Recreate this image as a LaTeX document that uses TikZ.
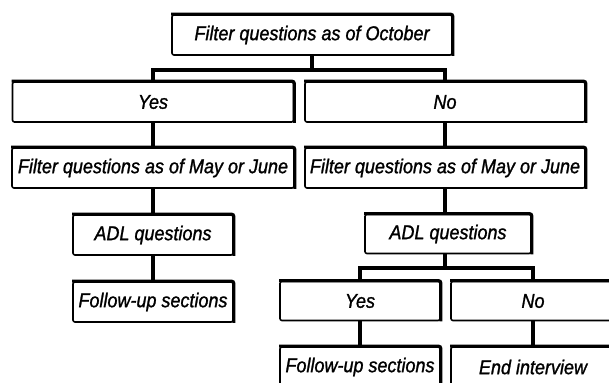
\documentclass[tikz,border=0pt]{standalone}
\usepackage{fontspec}
\usepackage{tikz}
\usetikzlibrary{positioning}
\newfontfamily\boxfont[FakeStretch=0.9, FakeBold=1.2]{Liberation Sans}

\tikzset{
  stepbox/.style={draw, line width=1.6pt, rounded corners=2pt, minimum height=40pt, inner sep=0pt,
    font=\boxfont\itshape\fontsize{20}{22}\selectfont,
    append after command={\pgfextra{\draw[line width=3pt, rounded corners=2pt] (\tikzlastnode.north west) -- (\tikzlastnode.north east) -- (\tikzlastnode.south east);}}},
  link/.style={line width=3.8pt}
}

\begin{document}
\begin{tikzpicture}[x=1pt, y=-1pt]
\useasboundingbox (0,0) rectangle (609,382);
\clip (0,0) rectangle (609,382);

\node (oct) [stepbox, minimum width=280pt] at (312,35) {Filter questions as of October};
\node (yes1) [stepbox, minimum width=281pt] at (153,102) {Yes};
\node (no1) [stepbox, minimum width=280pt] at (445,102) {No};
\node (may1) [stepbox, minimum width=282pt] at (153,168) {Filter questions as of May or June};
\node (may2) [stepbox, minimum width=280pt] at (445,168) {Filter questions as of May or June};
\node (adl1) [stepbox, minimum width=160pt] at (153,235) {ADL questions};
\node (fol1) [stepbox, minimum width=160pt] at (153,302) {Follow-up sections};
\node (adl2) [stepbox, minimum width=166pt, minimum height=39pt] at (448,234) {ADL questions};
\node (yes2) [stepbox, minimum width=160pt, minimum height=39pt] at (360,301) {Yes};
\node (no2) [stepbox, minimum width=164pt, minimum height=39pt] at (533,301) {No};
\node (fol2) [stepbox, minimum width=160pt] at (360,367) {Follow-up sections};
\node (endint) [stepbox, minimum width=164pt] at (533,367) {End interview};

\draw[link] (oct.south) -- ++(0,14) -| (yes1.north);
\draw[link] (oct.south) ++(0,14) -| (no1.north);
\draw[link] (yes1) -- (may1);
\draw[link] (may1) -- (adl1);
\draw[link] (adl1) -- (fol1);
\draw[link] (no1) -- (may2);
\draw[link] (may2.south) -- (may2.south |- adl2.north);
\draw[link] (may2.south |- adl2.south) -- ++(0,14) -| (yes2.north);
\draw[link] (may2.south |- adl2.south) ++(0,14) -| (no2.north);
\draw[link] (yes2) -- (fol2);
\draw[link] (no2) -- (endint);
\end{tikzpicture}
\end{document}
